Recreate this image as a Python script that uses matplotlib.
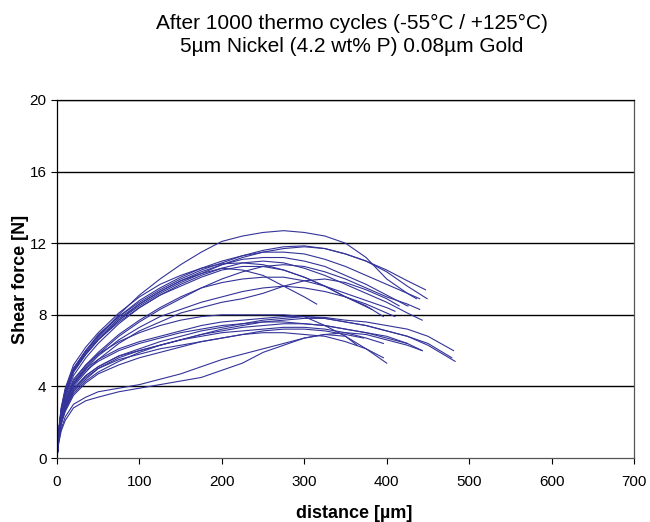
import matplotlib
matplotlib.use("Agg")
import matplotlib.pyplot as plt

# distance grid [um] shared by all curves; each curve stops where its list ends
dist = [0, 2, 5, 10, 20, 35, 50, 75, 100, 125, 150, 175, 200, 225, 250,
        275, 300, 325, 350, 375, 400, 425, 450, 475]

# upper group of shear curves (force in N)
h1 = [0, 1.5, 2.7, 3.8, 5.0, 6.0, 6.8, 8.0, 9.1, 10.0, 10.8, 11.5, 12.1, 12.4, 12.6, 12.7, 12.6, 12.4, 12.0, 11.2, 10.0, 9.2]
h2 = [0, 1.4, 2.6, 3.7, 5.0, 6.0, 6.8, 7.9, 8.7, 9.4, 10.0, 10.5, 10.9, 11.3, 11.6, 11.8, 11.85, 11.7, 11.4, 11.0, 10.4, 9.6]
h3 = [0, 1.3, 2.5, 3.5, 4.8, 5.8, 6.6, 7.7, 8.5, 9.2, 9.8, 10.3, 10.8, 11.2, 11.5, 11.7, 11.8, 11.7, 11.4, 11.0, 10.5, 9.9]
h4 = [0, 1.5, 2.7, 3.8, 5.0, 6.0, 6.9, 7.9, 8.8, 9.5, 10.1, 10.6, 11.0, 11.3, 11.5, 11.5, 11.4, 11.1, 10.7, 10.2, 9.7, 9.2]
h5 = [0, 1.4, 2.6, 3.6, 4.9, 5.9, 6.7, 7.8, 8.6, 9.3, 9.9, 10.4, 10.8, 11.1, 11.2, 11.2, 11.0, 10.7, 10.2, 9.7, 9.1, 8.5]
h6 = [0, 1.3, 2.4, 3.4, 4.6, 5.6, 6.4, 7.5, 8.4, 9.1, 9.7, 10.2, 10.6, 10.9, 11.0, 10.9, 10.6, 10.2, 9.7, 9.2, 8.7, 8.1]
h7 = [0, 1.5, 2.8, 3.9, 5.2, 6.2, 7.0, 8.1, 9.0, 9.7, 10.2, 10.6, 10.85, 10.9, 10.8, 10.5, 10.1, 9.6, 9.0, 8.5]
h8 = [0, 1.4, 2.6, 3.6, 4.9, 5.8, 6.6, 7.6, 8.4, 9.1, 9.6, 10.1, 10.5, 10.7, 10.7, 10.5, 10.1, 9.6, 9.0]
h9 = [0, 1.3, 2.5, 3.5, 4.8, 5.8, 6.6, 7.7, 8.6, 9.3, 9.9, 10.3, 10.6, 10.5, 10.2, 9.6, 9.0]
h10 = [0, 1.2, 2.3, 3.2, 4.3, 5.2, 5.9, 6.9, 7.7, 8.4, 9.0, 9.5, 9.8, 10.0, 10.1, 10.1, 9.9, 9.6, 9.2, 8.8, 8.4]
h11 = [0, 1.2, 2.2, 3.1, 4.2, 5.1, 5.8, 6.8, 7.6, 8.3, 8.9, 9.5, 10.0, 10.4, 10.7, 10.8, 10.7, 10.4, 10.0, 9.5, 9.0, 8.6]
h12 = [0, 1.1, 2.1, 3.0, 4.0, 4.8, 5.5, 6.4, 7.1, 7.6, 8.1, 8.4, 8.7, 8.9, 9.2, 9.6, 9.9, 10.0, 9.8, 9.4, 8.9]
h13 = [0, 1.2, 2.2, 3.1, 4.1, 5.0, 5.7, 6.6, 7.3, 7.9, 8.3, 8.7, 9.0, 9.3, 9.5, 9.6, 9.5, 9.3, 9.0, 8.6, 8.1]

# lower group of shear curves (force in N)
l1 = [0, 1.3, 2.4, 3.3, 4.4, 5.2, 5.8, 6.5, 7.0, 7.4, 7.7, 7.9, 8.0, 8.0, 8.0, 8.0, 7.9, 7.4, 6.8]
l2 = [0, 1.1, 2.0, 2.8, 3.8, 4.6, 5.1, 5.7, 6.1, 6.5, 6.8, 7.1, 7.3, 7.5, 7.7, 7.8, 7.9, 7.85, 7.7, 7.6, 7.4, 7.2, 6.8]
l3 = [0, 1.0, 1.9, 2.7, 3.6, 4.3, 4.8, 5.4, 5.9, 6.3, 6.6, 6.9, 7.2, 7.4, 7.6, 7.7, 7.8, 7.8, 7.6, 7.4, 7.1, 6.8, 6.3]
l4 = [0, 1.2, 2.2, 3.0, 4.1, 4.9, 5.4, 6.0, 6.4, 6.7, 7.0, 7.2, 7.4, 7.5, 7.6, 7.6, 7.5, 7.4, 7.2, 7.0, 6.8, 6.4]
l5 = [0, 1.1, 2.1, 2.9, 3.9, 4.6, 5.1, 5.7, 6.0, 6.3, 6.6, 6.9, 7.1, 7.3, 7.4, 7.5, 7.5, 7.4, 7.2, 7.0, 6.7, 6.4]
l6 = [0, 1.0, 1.9, 2.7, 3.7, 4.4, 5.0, 5.6, 6.0, 6.3, 6.6, 6.8, 7.0, 7.1, 7.2, 7.3, 7.3, 7.2, 7.0, 6.7]
l7 = [0, 1.0, 1.9, 2.6, 3.5, 4.2, 4.7, 5.2, 5.6, 5.9, 6.2, 6.5, 6.7, 6.9, 7.0, 7.0, 6.9, 6.8, 6.5, 6.1]
l8 = [0, 1.1, 2.0, 2.8, 3.8, 4.5, 5.0, 5.5, 5.8, 6.1, 6.3, 6.5, 6.7, 6.9, 7.1, 7.2, 7.2, 7.1, 6.9]
l9 = [0, 0.8, 1.5, 2.1, 2.8, 3.2, 3.4, 3.7, 3.9, 4.1, 4.3, 4.5, 4.9, 5.3, 5.9, 6.3, 6.7, 6.9, 6.8, 6.1]
l10 = [0, 0.9, 1.6, 2.3, 3.0, 3.4, 3.7, 3.9, 4.1, 4.4, 4.7, 5.1, 5.5, 5.8, 6.1, 6.4, 6.7, 6.9, 7.0, 6.9, 6.6, 6.3]
l11 = [0, 1.2, 2.2, 3.1, 4.2, 5.0, 5.5, 6.1, 6.5, 6.8, 7.1, 7.4, 7.6, 7.7, 7.8, 7.9, 7.9, 7.8, 7.6, 7.4, 7.1, 6.8, 6.4]

# last measured point of each curve (distance, force)
curves = [h1, h2, h3, h4, h5, h6, h7, h8, h9, h10, h11, h12, h13,
          l1, l2, l3, l4, l5, l6, l7, l8, l9, l10, l11]
end_dist = [436, 449, 447, 440, 426, 443, 396, 382, 315, 410, 440, 415, 410,
            364, 481, 483, 443, 425, 396, 396, 372, 400, 443, 479]
end_force = [8.9, 8.9, 9.4, 8.9, 8.5, 7.7, 7.9, 8.3, 8.6, 8.2, 8.3, 8.5, 7.9,
             6.3, 6.0, 5.4, 6.0, 6.4, 6.4, 5.6, 6.7, 5.3, 6.0, 5.6]

yticks = [0, 4, 8, 12, 16, 20]
xticks = [0, 100, 200, 300, 400, 500, 600, 700]

fig = plt.figure(figsize=(6.5, 5.22), dpi=100)
ax = fig.add_axes([57 / 650, 64 / 522, 577 / 650, 358 / 522])

for ys, ex, ey in zip(curves, end_dist, end_force):
    xs = dist[:len(ys)]
    if ex > xs[-1]:
        xs = xs + [ex]
        ys = ys + [ey]
    ax.plot(xs, ys, color="#333399", lw=0.8)

ax.set_xlim(0, 700)
ax.set_ylim(0, 20)
ax.set_xticks(xticks)
ax.set_yticks(yticks)
for yv in yticks[1:]:
    ax.axhline(yv, color="black", lw=1.0, zorder=0)
for sp in ax.spines.values():
    sp.set_color("#555555")
    sp.set_linewidth(0.9)
ax.spines["left"].set_color("black")
ax.spines["top"].set_color("black")

ax.tick_params(direction="out", length=4, width=0.8, labelsize=11)
ax.tick_params(axis="x", pad=8)
for lab in ax.get_xticklabels() + ax.get_yticklabels():
    lab.set_fontfamily("Liberation Sans")

fig.text(354 / 650, 1 - 513 / 522, "distance [µm]", ha="center", va="center",
         fontfamily="Liberation Sans", fontweight="bold", fontsize=13)
fig.text(21 / 650, 1 - 279 / 522, "Shear force [N]", ha="center", va="center",
         rotation=90, fontfamily="Liberation Sans", fontweight="bold", fontsize=13)

fig.text(352 / 650, 1 - 23 / 522, "After 1000 thermo cycles (-55°C / +125°C)",
         ha="center", va="center", fontsize=15, fontfamily="Liberation Sans")
fig.text(352 / 650, 1 - 46 / 522, "5µm Nickel (4.2 wt% P) 0.08µm Gold",
         ha="center", va="center", fontsize=15, fontfamily="Liberation Sans")

fig.savefig("out.png", dpi=100)
